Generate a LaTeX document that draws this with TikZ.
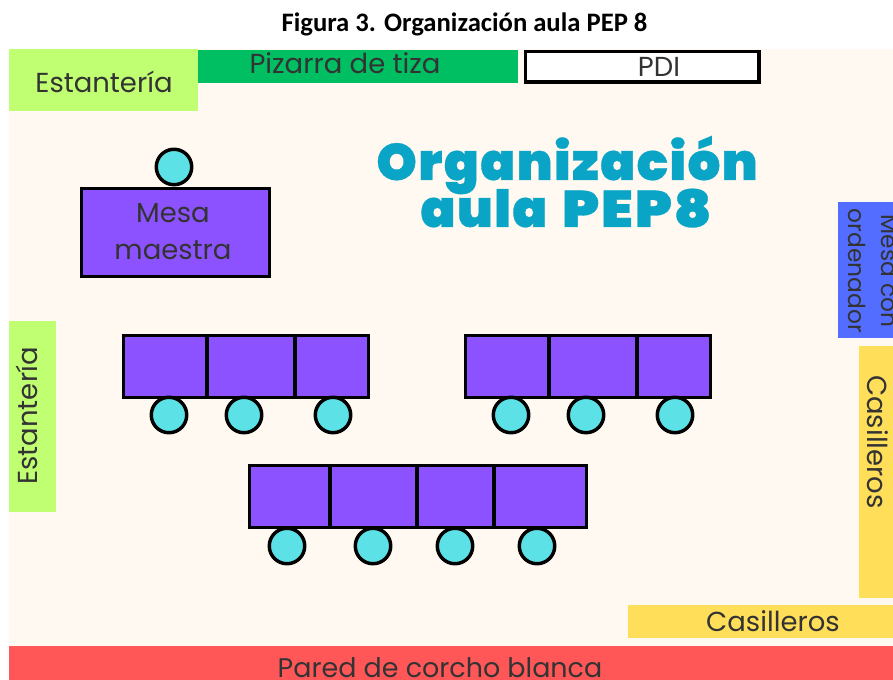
\documentclass[tikz,border=0pt]{standalone}
\usepackage{fontspec}
\setmainfont{Poppins}
\newfontfamily\titlefont{Carlito}
\newfontfamily\headfont[LetterSpace=3,FakeBold=0.6]{Poppins Black}
\definecolor{cream}{HTML}{FFF9F2}
\definecolor{lime}{HTML}{C1FF72}
\definecolor{boardgreen}{HTML}{00BF63}
\definecolor{desk}{HTML}{8C52FF}
\definecolor{seat}{HTML}{5CE1E6}
\definecolor{bluepc}{HTML}{526DFF}
\definecolor{lockers}{HTML}{FFDE59}
\definecolor{wall}{HTML}{FF5757}
\definecolor{ink}{HTML}{333333}
\definecolor{heading}{HTML}{0AA5C6}
\tikzset{
  x=0.75pt,y=-0.75pt,
  block/.style={draw=black,line width=2.4pt,fill=desk,inner sep=0pt},
  seatdot/.style={circle,draw=black,line width=2.6pt,fill=seat,minimum size=26.6pt,inner sep=0pt,outer sep=0pt},
  lab/.style={text=ink,inner sep=0pt,font=\fontsize{20.6}{25}\selectfont,align=center},
  headline/.style={font=\headfont\fontsize{38.5}{38.5}\selectfont,text=heading,inner sep=0pt,anchor=base}
}
\begin{document}
\begin{tikzpicture}
\useasboundingbox (0,0) rectangle (893,680);
\clip (0,0) rectangle (893,680);
\fill[white] (0,0) rectangle (893,680);
\fill[cream] (9,49) rectangle (893,680);
\node[font=\titlefont\bfseries\fontsize{20}{24}\selectfont,inner sep=0pt] (title) at (464.5,24) {Figura 3. Organización aula PEP 8};
% zones
\fill[lime] (9,49) rectangle (198,111);
\node[lab] (est1) at (104,82) {Estantería};
\fill[boardgreen] (198,50) rectangle (518,83);
\node[lab] (piz) at (345,63) {Pizarra de tiza};
\draw[draw=black,line width=2.4pt,fill=white] (525.5,51.5) rectangle (759,82);
\node[lab] (pdi) at (659,67) {PDI};
\fill[lime] (9,321) rectangle (56,512);
\node[lab,rotate=90] (est2) at (27,416) {Estantería};
\fill[bluepc] (838,202) rectangle (893,338);
\node[lab,rotate=-90,font=\fontsize{17.5}{24.75}\selectfont] (pc) at (873,271) {Mesa con\\ordenador};
\fill[lockers] (859,346) rectangle (893,598);
\node[lab,rotate=-90] (cas1) at (878,442) {Casilleros};
\fill[lockers] (628,605) rectangle (893,638);
\node[lab] (cas2) at (773,621) {Casilleros};
\fill[wall] (9,646) rectangle (893,680);
\node[lab,anchor=base,font=\fontsize{20.2}{25}\selectfont] (pared) at (440,677) {Pared de corcho blanca};
% heading
\node[headline] (head1) at (567,180) {Organización};
\node[headline] (head2) at (566,227) {aula\hspace{11pt}\scalebox{1.12}[1]{PEP8}};
% teacher
\node[seatdot] (s0) at (174,167) {};
\draw[block] (81.5,188.5) rectangle (269.5,276.5);
\node[lab] at (173,213) (m1) {Mesa};
\node[lab] at (173,250) (m2) {maestra};
% desks
\draw[block] (123.5,335.5) rectangle (207,397.5);
\draw[block] (207,335.5) rectangle (295,397.5);
\draw[block] (295,335.5) rectangle (368.5,397.5);
\draw[block] (465.5,335.5) rectangle (549,397.5);
\draw[block] (549,335.5) rectangle (637,397.5);
\draw[block] (637,335.5) rectangle (710.5,397.5);
\draw[block] (249.5,465.5) rectangle (330,527.5);
\draw[block] (330,465.5) rectangle (417,527.5);
\draw[block] (417,465.5) rectangle (494,527.5);
\draw[block] (494,465.5) rectangle (586.5,527.5);
% seats
\foreach \n/\px/\py in {a/169/415,b/244/415,c/333/415,d/511/415,e/586/415,f/675/415,g/287/546,h/373/546,i/455/546,j/537/546}
  \node[seatdot] (s\n) at (\px,\py) {};
\end{tikzpicture}
\end{document}
